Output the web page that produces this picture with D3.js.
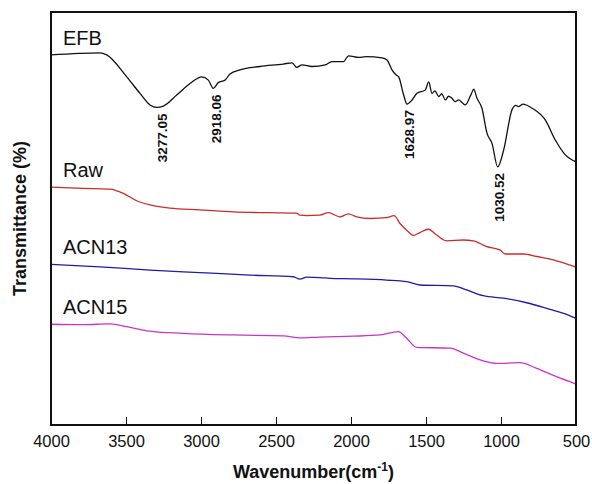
<!DOCTYPE html>
<html lang="en">
<head>
  <meta charset="UTF-8">
  <title>FTIR spectra - EFB, Raw, ACN13, ACN15</title>
  <script src="https://d3js.org/d3.v7.min.js"></script>
  <style>
    body { margin: 0; background: #fff; }
    text { font-family: "Liberation Sans", Arial, sans-serif; fill: #111; }
    .axis path, .axis line { stroke: #111; stroke-width: 1.5px; shape-rendering: crispEdges; }
    .axis text { font-size: 16.5px; }
    .frame { fill: none; stroke: #111; stroke-width: 1.5px; shape-rendering: crispEdges; }
    .line { fill: none; stroke-width: 1.3px; stroke-linejoin: round; }
    .series-label { font-size: 20px; }
    .peak-label { font-size: 13.5px; font-weight: bold; }
    .title { font-size: 18px; font-weight: bold; }
  </style>
</head>
<body>
<svg width="592" height="484"></svg>
<script>
// wavenumber (cm-1) / transmittance pairs
var efbWave = [4000, 3673, 3629, 3495, 3407, 3340, 3295, 3251, 3162, 3073, 2995, 2951, 2918, 2885, 2840, 2807, 2740, 2607, 2451, 2393, 2362, 2327, 2260, 2171, 2127, 2049, 2030, 2016, 1949, 1900, 1793, 1760, 1727, 1700, 1682, 1649, 1627, 1593, 1560, 1505, 1482, 1460, 1440, 1415, 1395, 1371, 1350, 1327, 1305, 1282, 1260, 1238, 1200, 1182, 1160, 1127, 1093, 1060, 1022, 982, 927, 900, 882, 853, 793, 704, 638, 571, 500];
var efbT    = [89.6, 90.1, 89.6, 84.3, 80.3, 77.5, 76.9, 77.2, 79.9, 82.7, 84.3, 83.5, 81.5, 82.9, 83.5, 85.0, 86.0, 86.8, 87.4, 87.7, 86.6, 87.2, 86.8, 87.2, 88.0, 88.0, 88.9, 89.4, 89.0, 89.2, 88.9, 88.4, 86.0, 84.8, 84.3, 79.9, 77.7, 78.7, 80.3, 81.1, 83.1, 80.3, 80.9, 79.5, 80.2, 78.7, 79.6, 79.1, 78.3, 78.7, 78.1, 77.5, 80.0, 81.3, 79.1, 76.7, 70.6, 68.2, 62.5, 66.6, 76.3, 77.4, 77.1, 77.7, 76.7, 73.8, 69.0, 65.4, 63.7];

var rawWave = [4000, 3785, 3607, 3518, 3429, 3340, 3207, 3007, 2785, 2562, 2362, 2340, 2295, 2207, 2151, 2073, 2018, 1962, 1873, 1762, 1713, 1673, 1618, 1585, 1540, 1485, 1429, 1362, 1251, 1184, 1095, 1007, 973, 851, 762, 651, 500];
var rawT    = [57.6, 57.3, 57.1, 56.1, 54.3, 53.3, 52.5, 52.1, 51.6, 51.4, 51.3, 50.8, 50.7, 50.8, 51.4, 50.4, 51.1, 50.4, 50.0, 50.2, 50.7, 48.8, 46.8, 45.9, 46.6, 47.4, 46.0, 44.6, 44.8, 44.6, 43.2, 42.4, 41.4, 41.4, 40.8, 40.0, 38.2];

var acn13Wave = [4000, 3673, 3340, 3007, 2673, 2384, 2340, 2295, 2207, 2140, 1984, 1762, 1629, 1540, 1318, 1229, 1118, 984, 829, 673, 562, 500];
var acn13T    = [38.9, 38.3, 37.5, 36.9, 36.3, 35.9, 35.3, 35.8, 35.7, 35.5, 35.4, 35.1, 34.7, 33.9, 33.7, 32.7, 31.3, 30.7, 29.6, 28.0, 26.8, 25.8];

var acn15Wave = [4000, 3785, 3607, 3495, 3362, 3118, 2785, 2451, 2340, 2207, 1984, 1807, 1684, 1629, 1562, 1340, 1251, 1118, 1029, 873, 762, 629, 500];
var acn15T    = [24.4, 24.3, 24.5, 23.8, 22.8, 22.2, 21.8, 21.6, 21.1, 21.3, 21.5, 21.8, 22.6, 21.0, 18.8, 18.6, 17.4, 15.5, 14.9, 15.1, 13.7, 11.7, 9.9];

var seriesNames  = ["EFB", "Raw", "ACN13", "ACN15"];
var seriesColors = ["#111111", "#cc2b2b", "#1c1ca8", "#cc33cc"];

var peakWaves  = [3277.05, 2918.06, 1628.97, 1030.52];
var peakT      = [76.9, 81.5, 77.7, 62.5];

var xTicks = [4000, 3500, 3000, 2500, 2000, 1500, 1000, 500];

var svg = d3.select("svg"),
    margin = {top: 12, right: 16, bottom: 59, left: 51},
    width = +svg.attr("width") - margin.left - margin.right,
    height = +svg.attr("height") - margin.top - margin.bottom,
    g = svg.append("g").attr("transform", "translate(" + margin.left + "," + margin.top + ")");

var x = d3.scaleLinear().domain([4000, 500]).range([0, width]);
var y = d3.scaleLinear().domain([0, 100]).range([height, 0]);

function zipUp(w, t) {
  return w.map(function(d, i) { return {w: d, t: t[i]}; });
}
var series = [zipUp(efbWave, efbT), zipUp(rawWave, rawT), zipUp(acn13Wave, acn13T), zipUp(acn15Wave, acn15T)];

var line = d3.line()
  .curve(d3.curveMonotoneX)
  .x(function(d) { return x(d.w); })
  .y(function(d) { return y(d.t); });

g.selectAll(".line")
  .data(series)
  .enter().append("path")
  .attr("class", "line")
  .style("stroke", function(d, i) { return seriesColors[i]; })
  .attr("d", line);

// curve names, sitting just above the start of each curve
g.selectAll(".series-label")
  .data(series)
  .enter().append("text")
  .attr("class", "series-label")
  .attr("x", x(3920))
  .attr("y", function(d) { return y(d[0].t) - 10; })
  .text(function(d, i) { return seriesNames[i]; });

// peak annotations, rotated under each band
g.selectAll(".peak-label")
  .data(peakWaves)
  .enter().append("text")
  .attr("class", "peak-label")
  .attr("text-anchor", "end")
  .attr("dy", "0.35em")
  .attr("transform", function(d, i) {
    return "translate(" + (x(d) + 3) + "," + (y(peakT[i]) + 6) + ") rotate(-90)";
  })
  .text(function(d) { return d.toFixed(2); });

g.append("g")
  .attr("class", "axis axis--x")
  .attr("transform", "translate(0," + height + ")")
  .call(d3.axisBottom(x).tickValues(xTicks).tickSizeInner(-8).tickSizeOuter(0).tickPadding(10).tickFormat(d3.format("d")));

g.append("rect")
  .attr("class", "frame")
  .attr("width", width)
  .attr("height", height);

svg.append("text")
  .attr("class", "title")
  .attr("text-anchor", "middle")
  .attr("x", margin.left + width / 2)
  .attr("y", 478)
  .text("Wavenumber(cm")
  .append("tspan")
  .attr("dy", -7)
  .style("font-size", "12px")
  .text("-1")
  .select(function() { return this.parentNode; })
  .append("tspan")
  .attr("dy", 7)
  .text(")");

svg.append("text")
  .attr("class", "title")
  .attr("text-anchor", "middle")
  .attr("transform", "translate(26," + (margin.top + height / 2) + ") rotate(-90)")
  .text("Transmittance (%)");
</script>
</body>
</html>
